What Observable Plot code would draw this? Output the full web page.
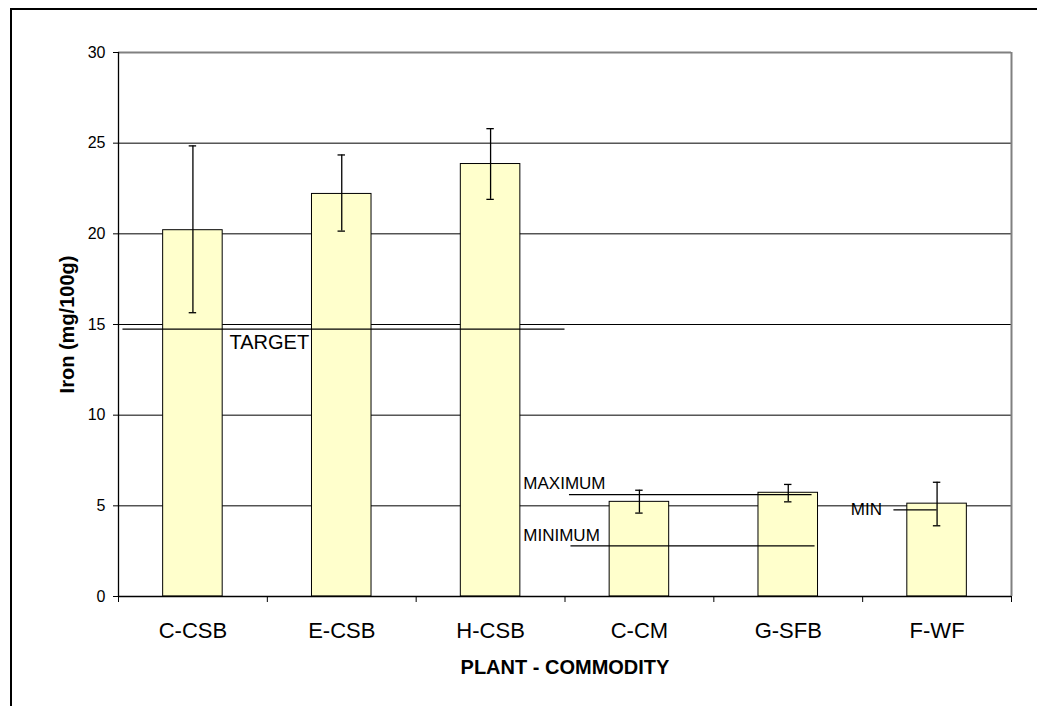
<!DOCTYPE html>
<html><head><meta charset="utf-8">
<script src="https://cdn.jsdelivr.net/npm/d3@7"></script>
<script src="https://cdn.jsdelivr.net/npm/@observablehq/plot@0.6"></script>
<style>body{margin:0;background:#fff} svg{display:block}</style>
</head><body><div id="chart"></div>
<script>
// ---- data ----
const categories = ["C-CSB", "E-CSB", "H-CSB", "C-CM", "G-SFB", "F-WF"];
const ironMean = [20.2, 22.2, 23.85, 5.22, 5.72, 5.12];
const errLow  = [15.65, 20.15, 21.9, 4.6, 5.22, 3.9];
const errHigh = [24.85, 24.35, 25.8, 5.86, 6.18, 6.3];
const yTicks = [0, 5, 10, 15, 20, 25, 30];
const refLabels = ["TARGET", "MAXIMUM", "MINIMUM", "MIN"];
const refValues = [14.75, 5.62, 2.79, 4.78];

// ---- layout (category-index units along x) ----
const refSpan = [[0.03, 3.0], [3.03, 4.66], [3.04, 4.68], [5.21, 5.50]];
const refTextX = [0.746, 2.72, 2.72, 4.92];
const refTextStyle = [
  {lineAnchor: "top", dy: 6, fontSize: 20},
  {lineAnchor: "bottom", dy: -6, fontSize: 17},
  {lineAnchor: "bottom", dy: -5, fontSize: 17},
  {lineAnchor: "middle", dy: 0, fontSize: 17}
];

const bars = categories.map((c, i) => ({i, c, mean: ironMean[i], lo: errLow[i], hi: errHigh[i]}));
const refs = refLabels.map((l, k) => ({label: l, value: refValues[k], x1: refSpan[k][0], x2: refSpan[k][1], tx: refTextX[k]}));

const chart = Plot.plot({
  width: 1037, height: 706,
  marginLeft: 118, marginRight: 26, marginTop: 52, marginBottom: 110,
  style: {fontFamily: "'Liberation Sans', Arial, sans-serif", fontSize: "16px", color: "#000", background: "#fff"},
  x: {type: "linear", domain: [0, categories.length]},
  y: {domain: [0, 30]},
  marks: [
    Plot.ruleY(yTicks.filter(t => t > 0 && t < 30), {stroke: "#000", strokeWidth: 1}),
    Plot.ruleY([30], {stroke: "#808080", strokeWidth: 2}),
    Plot.ruleX([categories.length], {stroke: "#808080", strokeWidth: 2}),
    Plot.rectY(bars, {x1: d => d.i + 0.3, x2: d => d.i + 0.7, y1: 0, y2: "mean", fill: "#FFFFCC", stroke: "#000", strokeWidth: 1}),
    Plot.ruleX(bars, {x: d => d.i + 0.5, y1: "lo", y2: "hi", stroke: "#000", strokeWidth: 1.3}),
    Plot.ruleY(bars, {y: "hi", x1: d => d.i + 0.475, x2: d => d.i + 0.525, stroke: "#000", strokeWidth: 1.3}),
    Plot.ruleY(bars, {y: "lo", x1: d => d.i + 0.475, x2: d => d.i + 0.525, stroke: "#000", strokeWidth: 1.3}),
    Plot.ruleY(refs, {y: "value", x1: "x1", x2: "x2", stroke: "#000", strokeWidth: 1.3}),
    ...refs.map((r, k) => Plot.text([r], {x: "tx", y: "value", text: "label", textAnchor: "start", fill: "#000", ...refTextStyle[k]})),
    Plot.ruleX([0], {stroke: "#000", strokeWidth: 1.3}),
    Plot.ruleY([0], {stroke: "#000", strokeWidth: 1.3}),
    Plot.axisY({ticks: yTicks, tickSize: 5, tickPadding: 8, label: null, fontSize: 16}),
    Plot.axisX({ticks: categories.map((c, i) => i + 0.5), tickSize: 0, tickPadding: 26, tickFormat: v => categories[Math.floor(v)], label: null, fontSize: 22}),
    Plot.axisX({ticks: d3.range(categories.length + 1), tickSize: 6, tickFormat: () => "", label: null}),
    Plot.text(["Iron (mg/100g)"], {frameAnchor: "left", textAnchor: "middle", dx: -51, rotate: -90, fontWeight: "bold", fontSize: 20, fill: "#000"}),
    Plot.text(["PLANT - COMMODITY"], {frameAnchor: "bottom", lineAnchor: "bottom", dy: 77, fontWeight: "bold", fontSize: 20, fill: "#000"})
  ]
});
d3.select(chart).append("path")
  .attr("d", "M11,706V9H1037")
  .attr("fill", "none").attr("stroke", "#000").attr("stroke-width", 2);
document.getElementById("chart").appendChild(chart);
</script>
</body></html>
